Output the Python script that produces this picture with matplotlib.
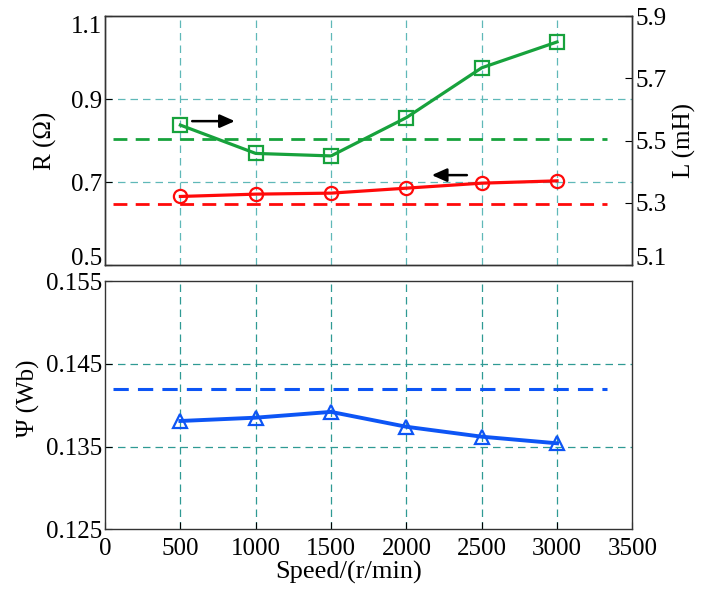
import matplotlib
matplotlib.use("Agg")
import matplotlib.pyplot as plt

plt.rcParams['font.family'] = ['Liberation Serif', 'DejaVu Serif']

speed = [500, 1000, 1500, 2000, 2500, 3000]
R_vals = [0.6656, 0.6712, 0.6736, 0.6856, 0.6976, 0.7032]
L_vals = [5.550, 5.459, 5.451, 5.574, 5.734, 5.817]
psi_vals = [0.1381, 0.1385, 0.1392, 0.1374, 0.1362, 0.1354]
R_ref = 0.647
L_ref = 5.504
psi_ref = 0.1420
ref_span = [50, 3330]

R_ticks = [0.5, 0.7, 0.9, 1.1]
L_ticks = [5.1, 5.3, 5.5, 5.7, 5.9]
psi_ticks = [0.125, 0.135, 0.145, 0.155]
x_ticks = [0, 500, 1000, 1500, 2000, 2500, 3000, 3500]

green = '#17a23c'
red = '#ff0a0a'
blue = '#0d55f5'
grid_top = '#5fb8b8'
grid_bot = '#2f9a94'

fig = plt.figure(figsize=(7.05, 5.96), dpi=100)
ax1 = fig.add_axes([0.149, 0.555, 0.748, 0.418])
ax3 = fig.add_axes([0.149, 0.112, 0.748, 0.416])

fs = 18
ms = 9.5
lw = 2.3

# Top panel
ax1.set_xlim(0, 3500)
ax1.set_ylim(0.5, 1.1)
ax1.set_yticks(R_ticks)
ax1.set_yticklabels(['0.5', '0.7', '0.9', '1.1'])
ax1.set_xticks(x_ticks)
ax1.tick_params(axis='x', labelbottom=False, direction='in', length=0)
ax1.tick_params(axis='y', direction='in', length=5, labelsize=fs, pad=2)
for x in speed:
    ax1.axvline(x, color=grid_top, ls=(0, (6, 4)), lw=0.9, zorder=0)
for y in [0.7, 0.9]:
    ax1.axhline(y, color=grid_top, ls=(0, (6, 4)), lw=0.9, zorder=0)
ax1.plot(ref_span, [R_ref, R_ref], color=red, ls=(0, (5, 3)), lw=2)
ax1.plot(speed, R_vals, color=red, lw=lw, marker='o', ms=ms, mfc='none', mec=red, mew=1.6)
ax1.set_ylabel('R (Ω)', fontsize=fs)
ax1.yaxis.set_label_coords(-0.091, 0.50)
lbls = ax1.get_yticklabels()
lbls[0].set_va('baseline')
lbls[-1].set_va('top')

ax2 = ax1.twinx()
ax2.set_ylim(5.1, 5.9)
ax2.set_yticks(L_ticks)
ax2.set_yticklabels(['5.1', '5.3', '5.5', '5.7', '5.9'])
ax2.tick_params(axis='y', direction='in', length=5, labelsize=fs, pad=2)
ax2.plot(ref_span, [L_ref, L_ref], color=green, ls=(0, (5, 3)), lw=2)
ax2.plot(speed, L_vals, color=green, lw=lw, marker='s', ms=ms, mfc='none', mec=green, mew=1.6)
ax2.set_ylabel('L (mH)', fontsize=fs)
ax2.yaxis.set_label_coords(1.076, 0.50)
ax2.get_yticklabels()[0].set_va('baseline')

ax1.annotate('', xy=(880, 0.847), xytext=(560, 0.847),
             arrowprops=dict(arrowstyle='-|>,head_length=0.9,head_width=0.4', color='black', lw=1.8))
ax1.annotate('', xy=(2150, 0.717), xytext=(2420, 0.717),
             arrowprops=dict(arrowstyle='-|>,head_length=0.9,head_width=0.4', color='black', lw=1.8))

# Bottom panel
ax3.set_xlim(0, 3500)
ax3.set_ylim(0.125, 0.155)
ax3.set_yticks(psi_ticks)
ax3.set_yticklabels(['0.125', '0.135', '0.145', '0.155'])
ax3.set_xticks(x_ticks)
ax3.set_xticklabels([str(v) for v in x_ticks])
ax3.tick_params(axis='y', direction='in', length=5, labelsize=fs, pad=2)
ax3.tick_params(axis='x', direction='in', length=5, labelsize=fs, pad=6)
for x in speed:
    ax3.axvline(x, color=grid_bot, ls=(0, (6, 4)), lw=0.9, zorder=0)
for y in [0.135, 0.145]:
    ax3.axhline(y, color=grid_bot, ls=(0, (6, 4)), lw=0.9, zorder=0)
ax3.plot(ref_span, [psi_ref, psi_ref], color=blue, ls=(0, (5, 3)), lw=2.2)
ax3.plot(speed, psi_vals, color=blue, lw=2.8, marker='^', ms=ms + 0.5, mfc='none', mec=blue, mew=1.6)
ax3.set_ylabel('Ψ (Wb)', fontsize=fs)
ax3.yaxis.set_label_coords(-0.124, 0.53)
ax3.set_xlabel('Speed/(r/min)', fontsize=fs + 1)
ax3.xaxis.label.set_va('center')
ax3.xaxis.set_label_coords(0.461, -0.173)

for ax in (ax1, ax2, ax3):
    for s in ax.spines.values():
        s.set_color('#333333')
        s.set_linewidth(1.0)

fig.savefig('out.png', dpi=100)
